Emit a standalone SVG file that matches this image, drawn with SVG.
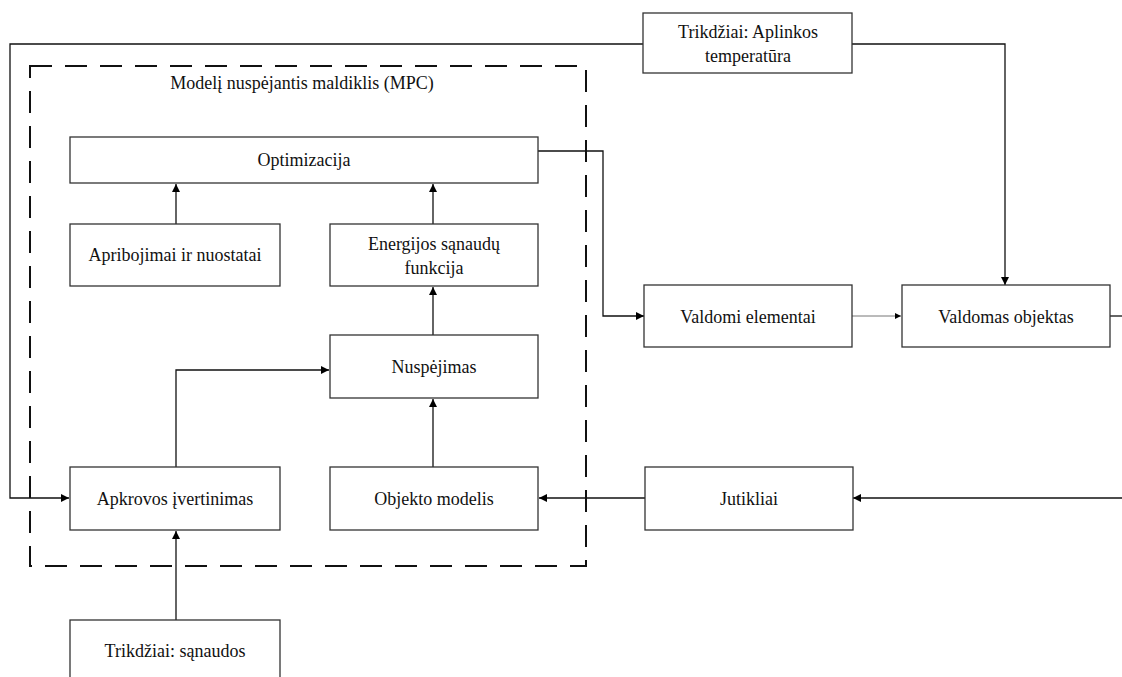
<svg xmlns="http://www.w3.org/2000/svg" width="1122" height="677" viewBox="0 0 1122 677">
<style>
.box{fill:#fff;stroke:#333;stroke-width:1.3}
text{font-family:"Liberation Serif","DejaVu Serif",serif;font-size:18px;fill:#111;text-anchor:middle}
.c{fill:none;stroke:#111;stroke-width:1.3}
.thin{fill:none;stroke:#777;stroke-width:1}
</style>
<defs>
<marker id="a" viewBox="0 0 10 10" refX="10" refY="5" markerWidth="8" markerHeight="8" markerUnits="userSpaceOnUse" orient="auto"><path d="M0,0 L10,5 L0,10 Z" fill="#000"/></marker>
<marker id="as" viewBox="0 0 10 10" refX="10" refY="5" markerWidth="6" markerHeight="6" markerUnits="userSpaceOnUse" orient="auto"><path d="M0,0 L10,5 L0,10 Z" fill="#000"/></marker>
</defs>
<g id="connectors">
<path class="c" d="M643,44 H10 V498 H69" marker-end="url(#a)"/>
<path class="c" d="M852,44 H1005 V285" marker-end="url(#a)"/>
<path class="c" d="M538,151 H603 V316 H644" marker-end="url(#a)"/>
<path class="thin" d="M852,316 H901" marker-end="url(#as)"/>
<path class="c" d="M1110,316 H1122"/>
<path class="c" d="M1122,498 H853" marker-end="url(#a)"/>
<path class="c" d="M645,498 H539" marker-end="url(#a)"/>
<path class="c" d="M176,224 V184" marker-end="url(#a)"/>
<path class="c" d="M433,224 V184" marker-end="url(#a)"/>
<path class="c" d="M433,335 V287" marker-end="url(#a)"/>
<path class="c" d="M433,467 V399" marker-end="url(#a)"/>
<path class="c" d="M176,467 V370 H329" marker-end="url(#a)"/>
<path class="c" d="M176,620 V531" marker-end="url(#a)"/>
</g>
<g id="mpc">
<rect x="30" y="66" width="556" height="500" fill="none" stroke="#111" stroke-width="2" stroke-dasharray="22,13"/>
<text x="302" y="89">Modelį nuspėjantis maldiklis (MPC)</text>
</g>
<g id="optimizacija"><rect class="box" x="70" y="137" width="468" height="46"/><text x="304" y="166">Optimizacija</text></g>
<g id="apribojimai"><rect class="box" x="70" y="224" width="210" height="62"/><text x="175" y="261">Apribojimai ir nuostatai</text></g>
<g id="energijos"><rect class="box" x="330" y="224" width="208" height="62"/><text x="434" y="250">Energijos sąnaudų</text><text x="434" y="274">funkcija</text></g>
<g id="nuspejimas"><rect class="box" x="330" y="335" width="208" height="63"/><text x="434" y="373">Nuspėjimas</text></g>
<g id="apkrovos"><rect class="box" x="70" y="467" width="210" height="63"/><text x="175" y="505">Apkrovos įvertinimas</text></g>
<g id="objekto"><rect class="box" x="330" y="467" width="208" height="63"/><text x="434" y="505">Objekto modelis</text></g>
<g id="trikdziai-sanaudos"><rect class="box" x="70" y="620" width="210" height="70"/><text x="175" y="657">Trikdžiai: sąnaudos</text></g>
<g id="trikdziai-aplinkos"><rect class="box" x="643" y="13" width="209" height="60"/><text x="748" y="38">Trikdžiai: Aplinkos</text><text x="748" y="62">temperatūra</text></g>
<g id="valdomi"><rect class="box" x="644" y="285" width="208" height="62"/><text x="748" y="323">Valdomi elementai</text></g>
<g id="valdomas"><rect class="box" x="902" y="285" width="208" height="62"/><text x="1006" y="323">Valdomas objektas</text></g>
<g id="jutikliai"><rect class="box" x="645" y="467" width="208" height="63"/><text x="749" y="505">Jutikliai</text></g>
</svg>
